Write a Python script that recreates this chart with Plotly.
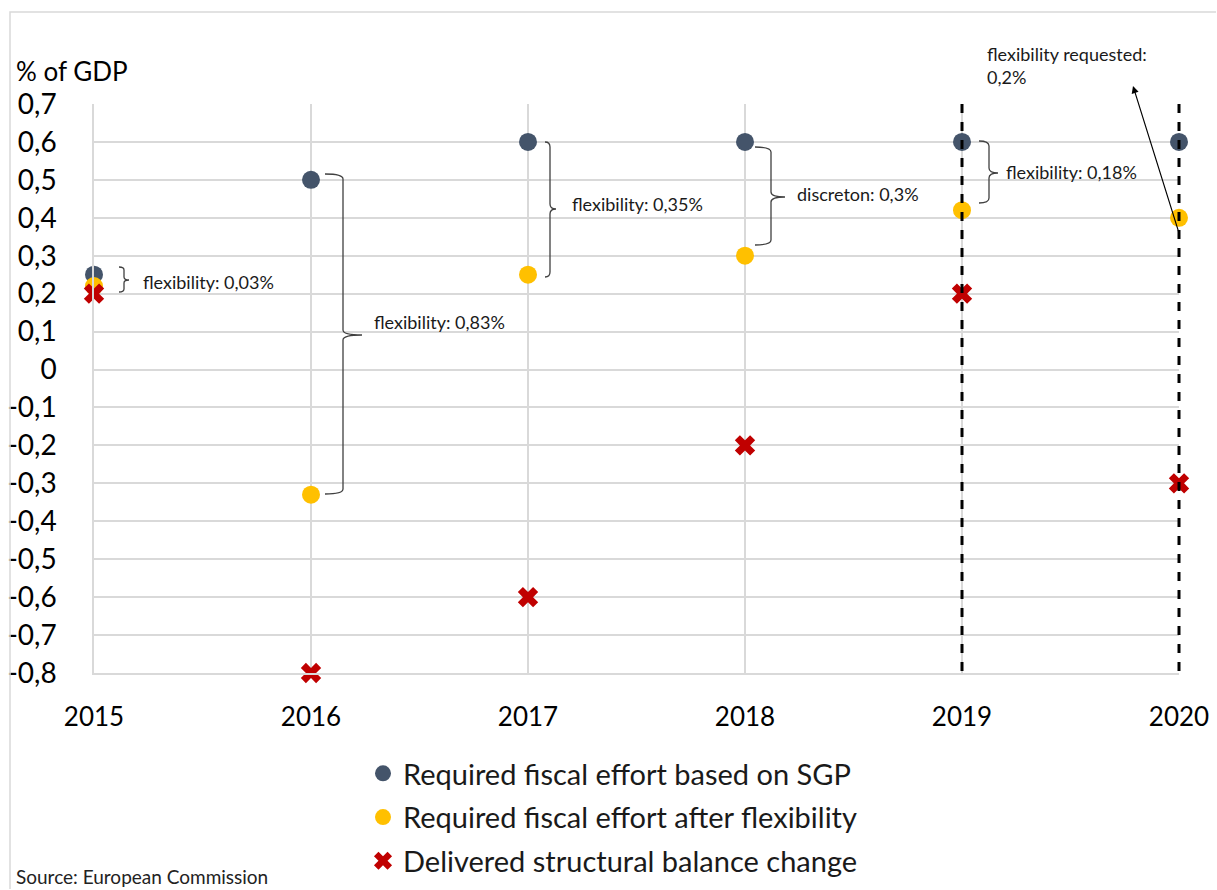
import plotly.graph_objects as go

# ---- data ----
years = [2015, 2016, 2017, 2018, 2019, 2020]
year_labels = ["2015", "2016", "2017", "2018", "2019", "2020"]
sgp_required = [0.25, 0.50, 0.60, 0.60, 0.60, 0.60]
after_flex = [0.22, -0.33, 0.25, 0.30, 0.42, 0.40]
delivered = [0.20, -0.80, -0.60, -0.20, 0.20, -0.30]
y_ticks = [0.7, 0.6, 0.5, 0.4, 0.3, 0.2, 0.1, 0.0, -0.1, -0.2, -0.3, -0.4, -0.5, -0.6, -0.7, -0.8]
y_tick_labels = ["0,7", "0,6", "0,5", "0,4", "0,3", "0,2", "0,1", "0", "-0,1", "-0,2",
                 "-0,3", "-0,4", "-0,5", "-0,6", "-0,7", "-0,8"]
series_names = ["Required fiscal effort based on SGP",
                "Required fiscal effort after flexibility",
                "Delivered structural balance change"]

FONT = "Lato"
W, H = 1217, 890
L, R, T, B = 94, 1179, 104, 673  # plot area in px
YMIN, YMAX = -0.8, 0.7


def X(px):
    return years[0] + (px - L) / (R - L) * (years[-1] - years[0])


def Y(py):
    return YMAX - (py - T) / (B - T) * (YMAX - YMIN)


def PX(px):
    return (px - L) / (R - L)


def PY(py):
    return (B - py) / (B - T)


fig = go.Figure()
fig.add_trace(go.Scatter(x=years, y=sgp_required, mode="markers", name=series_names[0],
                         marker=dict(color="#44546A", size=18), cliponaxis=False,
                         legendgroup="a"))
fig.add_trace(go.Scatter(x=years, y=after_flex, mode="markers", name=series_names[1],
                         marker=dict(color="#FFC000", size=18), cliponaxis=False,
                         legendgroup="b"))
fig.add_trace(go.Scatter(x=years, y=delivered, mode="markers", name=series_names[2],
                         marker=dict(color="#C00000", size=18, symbol="x",
                                     line=dict(width=0)), cliponaxis=False,
                         legendgroup="c"))

shapes = []
# dashed vertical lines at 2019 and 2020 (paper refs so the edge line is not clipped)
for yr in years[-2:]:
    xp = (yr - years[0]) / (years[-1] - years[0])
    shapes.append(dict(type="line", xref="paper", yref="paper", x0=xp, x1=xp, y0=1, y1=0,
                       line=dict(color="black", width=3, dash="dash"), layer="above"))


def brace(x0, xv, xt, yt, ym, yb, r=5):
    pts = [
        ("M", [(x0, yt)]),
        ("Q", [(xv, yt), (xv, yt + r)]),
        ("L", [(xv, ym - r)]),
        ("Q", [(xv, ym), (xt, ym)]),
        ("Q", [(xv, ym), (xv, ym + r)]),
        ("L", [(xv, yb - r)]),
        ("Q", [(xv, yb), (x0, yb)]),
    ]
    s = ""
    for cmd, ps in pts:
        s += cmd + " ".join(f"{X(a):.5f},{Y(b):.5f}" for a, b in ps) + " "
    return dict(type="path", xref="x", yref="y", path=s.strip(),
                line=dict(color="#404040", width=1.3), layer="above")


shapes.append(brace(119, 124, 129, 267, 280, 292, r=3))
shapes.append(brace(325, 343, 362, 174, 335, 494))
shapes.append(brace(545, 550, 556, 142, 209, 277))
shapes.append(brace(755, 771, 785, 147, 197, 245))
shapes.append(brace(979, 989, 998, 141, 173, 203))

# frame of the chart
shapes.append(dict(type="path", xref="paper", yref="paper",
                   path=f"M {PX(10):.5f},{PY(889):.5f} L {PX(10):.5f},{PY(12):.5f} "
                        f"L {PX(1216):.5f},{PY(12):.5f}",
                   line=dict(color="#D9D9D9", width=1.5)))

ann_font = dict(family=FONT, size=18, color="#1a1a1a")
annotations = []
for txt, px, py in [("flexibility: 0,03%", 141, 282),
                    ("flexibility: 0,83%", 372, 322),
                    ("flexibility: 0,35%", 570, 204),
                    ("discreton: 0,3%", 795, 194),
                    ("flexibility: 0,18%", 1004, 172)]:
    annotations.append(dict(text=txt, x=X(px), y=Y(py), xref="x", yref="y",
                            xanchor="left", yanchor="middle", showarrow=False,
                            font=ann_font))
annotations.append(dict(text="flexibility requested:<br>0,2%", x=PX(985), y=PY(41),
                        xref="paper", yref="paper", xanchor="left", yanchor="top",
                        align="left", showarrow=False, font=ann_font))
# arrow from 2020 point to the note
annotations.append(dict(text="", x=X(1133), y=Y(86), xref="x", yref="y",
                        ax=X(1179), ay=Y(233), axref="x", ayref="y",
                        showarrow=True, arrowhead=2, arrowsize=1.3, arrowwidth=1.1,
                        arrowcolor="black"))
annotations.append(dict(text="% of GDP", x=PX(14), y=PY(71), xref="paper", yref="paper",
                        xanchor="left", yanchor="middle", showarrow=False,
                        font=dict(family=FONT, size=26, color="black")))
annotations.append(dict(text="Source: European Commission", x=PX(14), y=PY(876),
                        xref="paper", yref="paper", xanchor="left", yanchor="middle",
                        showarrow=False, font=dict(family=FONT, size=19, color="#222")))

fig.update_layout(
    width=W, height=H,
    margin=dict(l=L, r=W - R, t=T, b=H - B, autoexpand=False),
    paper_bgcolor="white", plot_bgcolor="white",
    font=dict(family=FONT, color="black"),
    showlegend=True,
    legend=dict(orientation="v", x=363 / W, xref="container", xanchor="left",
                y=1 - 748 / H, yref="container", yanchor="top",
                font=dict(family=FONT, size=29, color="#1a1a1a"),
                tracegroupgap=3, itemsizing="trace", itemwidth=30,
                bgcolor="rgba(0,0,0,0)"),
    shapes=shapes, annotations=annotations,
)
fig.update_xaxes(range=[years[0], years[-1]], tickvals=years, ticktext=year_labels,
                 showgrid=True, gridcolor="#D9D9D9", gridwidth=1.5,
                 showline=True, linecolor="#D9D9D9", linewidth=1.5,
                 zeroline=False, ticks="", ticklabelstandoff=20,
                 tickfont=dict(family=FONT, size=26, color="black"))
fig.update_yaxes(range=[YMIN, YMAX], tickvals=y_ticks, ticktext=y_tick_labels,
                 showgrid=True, gridcolor="#D9D9D9", gridwidth=1.5,
                 showline=True, linecolor="#D9D9D9", linewidth=1.5,
                 zeroline=True, zerolinecolor="#D9D9D9", zerolinewidth=1.5,
                 ticks="", ticklabelstandoff=30,
                 tickfont=dict(family=FONT, size=28, color="black"))

fig.write_html("out.html", config={"displayModeBar": False},
               post_script="document.body.style.margin='0';")
